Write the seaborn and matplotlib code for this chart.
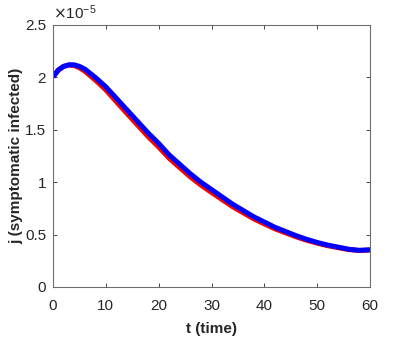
import matplotlib
matplotlib.use("Agg")
import matplotlib.pyplot as plt
import seaborn as sns
import pandas as pd

# time points
t = [0, 1, 2, 3, 4, 5, 6, 7, 8, 10, 12, 14, 16, 18, 20, 22, 24, 26, 28, 30,
     32, 34, 36, 38, 40, 42, 44, 46, 48, 50, 52, 54, 56, 58, 60]
# values in units of 1e-5
j_blue = [2.005, 2.07, 2.105, 2.12, 2.12, 2.105, 2.08, 2.04, 2.00, 1.91, 1.80,
          1.69, 1.58, 1.47, 1.37, 1.26, 1.17, 1.08, 1.00, 0.93, 0.86, 0.79,
          0.73, 0.67, 0.62, 0.57, 0.53, 0.49, 0.455, 0.425, 0.40, 0.38, 0.36,
          0.35, 0.355]
j_red = [2.005, 2.07, 2.105, 2.118, 2.113, 2.092, 2.06, 2.017, 1.975, 1.88,
         1.767, 1.655, 1.545, 1.435, 1.335, 1.228, 1.138, 1.05, 0.972, 0.902,
         0.834, 0.766, 0.708, 0.65, 0.602, 0.555, 0.517, 0.479, 0.446, 0.418,
         0.394, 0.375, 0.357, 0.348, 0.353]

xticks = [0, 10, 20, 30, 40, 50, 60]
yticks = [0, 0.5, 1, 1.5, 2, 2.5]
ytick_labels = ["0", "0.5", "1", "1.5", "2", "2.5"]

sns.set_style("white")
plt.rcParams['font.family'] = ['Liberation Sans', 'DejaVu Sans']

fig = plt.figure(figsize=(4.09, 3.54), dpi=100)
ax = fig.add_axes([53/409, 67/354, 317/409, 262/354])

df = pd.DataFrame({"t": t, "red": j_red, "blue": j_blue})
sns.lineplot(data=df, x="t", y="red", ax=ax, color="#ff0000", linewidth=3.6,
             solid_capstyle="butt", solid_joinstyle="round")
sns.lineplot(data=df, x="t", y="blue", ax=ax, color="#0000ff", linewidth=3.6,
             solid_capstyle="butt", solid_joinstyle="round")

ax.set_xlim(0, 60)
ax.set_ylim(0, 2.5)
ax.set_xticks(xticks)
ax.set_xticklabels([str(v) for v in xticks])
ax.set_yticks(yticks)
ax.set_yticklabels(ytick_labels)
ax.tick_params(direction="in", length=3, width=0.6, colors="#262626",
               labelsize=11, top=True, right=True, bottom=True, left=True,
               pad=5)
ax.tick_params(axis="x", pad=9)
for s in ax.spines.values():
    s.set_color("#6e6e6e")
    s.set_linewidth(0.8)
ax.set_xlabel("t (time)", fontsize=11, fontweight="bold", color="#262626",
              labelpad=6)
ax.set_ylabel("j (symptomatic infected)", fontsize=11, fontweight="bold",
              color="#262626", labelpad=1)
ax.text(0.0, 1.012, r"$\times\mathregular{10^{-5}}$", transform=ax.transAxes,
        fontsize=11, color="#262626", ha="left", va="bottom")

fig.savefig("out.png", dpi=100)
